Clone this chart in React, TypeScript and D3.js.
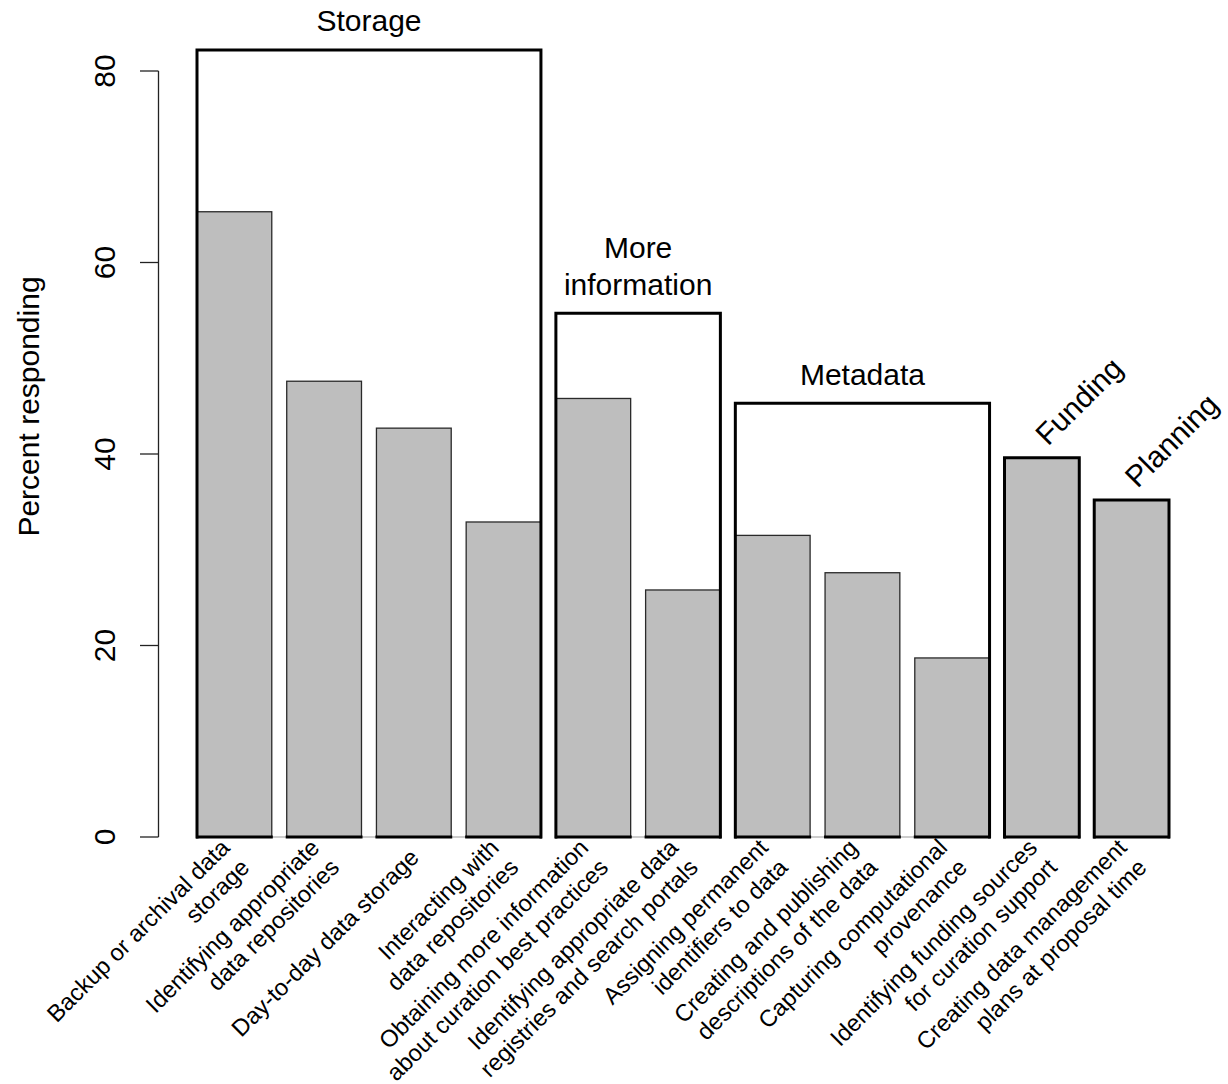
import React from "react";
import * as d3 from "d3";

const categories = [
  "Backup or archival data\nstorage",
  "Identifying appropriate\ndata repositories",
  "Day-to-day data storage",
  "Interacting with\ndata repositories",
  "Obtaining more information\nabout curation best practices",
  "Identifying appropriate data\nregistries and search portals",
  "Assigning permanent\nidentifiers to data",
  "Creating and publishing\ndescriptions of the data",
  "Capturing computational\nprovenance",
  "Identifying funding sources\nfor curation support",
  "Creating data management\nplans at proposal time",
];
const percents = [65.3, 47.6, 42.7, 32.9, 45.8, 25.8, 31.5, 27.6, 18.7, 39.6, 35.2];

const groupNames = ["Storage", "More\ninformation", "Metadata", "Funding", "Planning"];
const groupFirst = [0, 4, 6, 9, 10];
const groupLast = [3, 5, 8, 9, 10];
const groupBoxTop = [82.2, 54.7, 45.3, 39.6, 35.2];

const yTicks = [0, 20, 40, 60, 80];
const yLabel = "Percent responding";

const FONT = "'Liberation Sans', Arial, Helvetica, sans-serif";

export default function App() {
  const W = 1228;
  const H = 1084;
  const x = d3
    .scaleBand<number>()
    .domain(d3.range(categories.length))
    .range([197, 1169])
    .paddingInner(1 / 6)
    .paddingOuter(0);
  const y = d3.scaleLinear().domain([0, 80]).range([837, 71]);
  const bw = x.bandwidth();
  const axisX = 158.5;
  const y0 = y(0);

  const bigFont = 30;
  const smallFont = 23.6;
  const lineH = 28;

  return (
    <svg
      width={W}
      height={H}
      viewBox={`0 0 ${W} ${H}`}
      style={{ position: "absolute", left: 0, top: 0, background: "#fff" }}
      fontFamily={FONT}
    >
      <rect x={0} y={0} width={W} height={H} fill="#fff" />

      {/* y axis */}
      <line x1={axisX} x2={axisX} y1={y(80)} y2={y0} stroke="#222" strokeWidth={1.3} />
      {yTicks.map((t) => (
        <g key={t}>
          <line x1={140} x2={axisX} y1={y(t)} y2={y(t)} stroke="#222" strokeWidth={1.3} />
          <text
            transform={`translate(115,${y(t)}) rotate(-90)`}
            textAnchor="middle"
            fontSize={bigFont}
            fill="#000"
          >
            {t}
          </text>
        </g>
      ))}
      <text
        transform={`translate(39,406.5) rotate(-90)`}
        textAnchor="middle"
        fontSize={bigFont}
        fill="#000"
      >
        {yLabel}
      </text>

      {/* thin baseline within groups */}
      {groupNames.map((g, gi) => (
        <line
          key={"base" + gi}
          x1={x(groupFirst[gi])!}
          x2={x(groupLast[gi])! + bw}
          y1={y0}
          y2={y0}
          stroke="#999"
          strokeWidth={1}
        />
      ))}

      {/* bars */}
      {percents.map((v, i) => (
        <rect
          key={"bar" + i}
          x={x(i)!}
          y={y(v)}
          width={bw}
          height={y0 - y(v)}
          fill="#bebebe"
          stroke="#2a2a2a"
          strokeWidth={1.3}
        />
      ))}
      {percents.map((v, i) => (
        <line
          key={"bb" + i}
          x1={x(i)! - 1}
          x2={x(i)! + bw + 1}
          y1={y0}
          y2={y0}
          stroke="#000"
          strokeWidth={3}
        />
      ))}

      {/* group boxes */}
      {groupNames.map((g, gi) => {
        const x1 = x(groupFirst[gi])!;
        const x2 = x(groupLast[gi])! + bw;
        const yt = y(groupBoxTop[gi]);
        return (
          <path
            key={"box" + gi}
            d={`M${x1},${y0 + 1.5}V${yt}H${x2}V${y0 + 1.5}`}
            fill="none"
            stroke="#000"
            strokeWidth={3}
            strokeLinejoin="miter"
          />
        );
      })}

      {/* group labels */}
      {groupNames.map((g, gi) => {
        const single = groupFirst[gi] === groupLast[gi];
        const x1 = x(groupFirst[gi])!;
        const x2 = x(groupLast[gi])! + bw;
        const yt = y(groupBoxTop[gi]);
        if (single) {
          const cx = x1 + bw / 2;
          return (
            <text
              key={"gl" + gi}
              transform={`translate(${cx + 6},${yt - 11}) rotate(-45)`}
              textAnchor="start"
              fontSize={bigFont}
              fill="#000"
            >
              {g}
            </text>
          );
        }
        const lines = g.split("\n");
        const n = lines.length;
        return (
          <text
            key={"gl" + gi}
            x={(x1 + x2) / 2}
            y={yt - 18.5}
            textAnchor="middle"
            fontSize={bigFont}
            fill="#000"
          >
            {lines.map((l, k) => (
              <tspan key={k} x={(x1 + x2) / 2} y={yt - 18.5 - (n - 1 - k) * 36.7}>
                {l}
              </tspan>
            ))}
          </text>
        );
      })}

      {/* category labels */}
      {categories.map((c, i) => {
        const lines = c.split("\n");
        const n = lines.length;
        const ax = x(i)! + bw / 2 + 0.5;
        const ay = 853;
        return (
          <text
            key={"cl" + i}
            transform={`translate(${ax},${ay}) rotate(-45)`}
            textAnchor="end"
            fontSize={smallFont}
            fill="#000"
          >
            {lines.map((l, k) => (
              <tspan key={k} x={0} y={(k - (n - 1) / 2) * lineH + smallFont * 0.36}>
                {l}
              </tspan>
            ))}
          </text>
        );
      })}
    </svg>
  );
}
